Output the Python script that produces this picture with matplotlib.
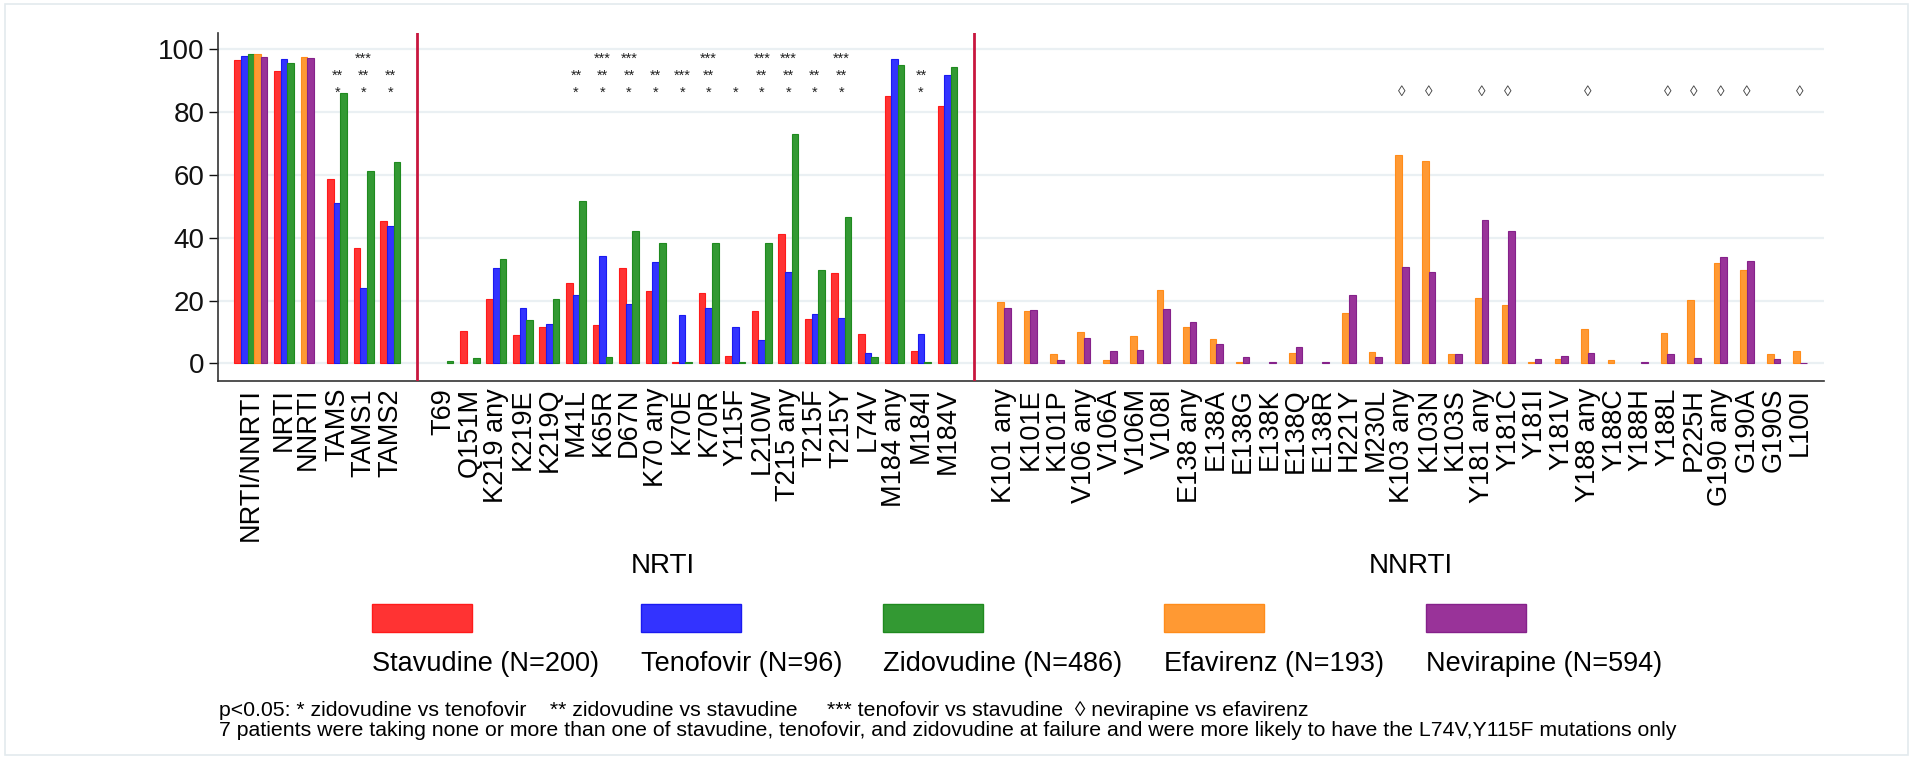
import matplotlib
matplotlib.use("Agg")
import matplotlib.pyplot as plt
from matplotlib.patches import Rectangle

# Drugs (legend order) and their sample sizes
drugs = ["Stavudine", "Tenofovir", "Zidovudine", "Efavirenz", "Nevirapine"]
drug_n = [200, 96, 486, 193, 594]
fill_colors = ["#FF3333", "#3333FF", "#339933", "#FF9933", "#993399"]
edge_colors = ["#FF1A1A", "#1A1AF0", "#1F8A1F", "#FF8C1A", "#85218A"]

# Overall resistance classes (None = drug not shown for that class)
class_labels = ["NRTI/NNRTI", "NRTI", "NNRTI", "TAMS", "TAMS1", "TAMS2"]
stavudine_class = [96.5, 93.1, None, 58.6, 36.6, 45.2]
tenofovir_class = [97.9, 96.8, None, 51.1, 24.0, 43.9]
zidovudine_class = [98.4, 95.5, None, 86.0, 61.3, 64.1]
efavirenz_class = [98.5, None, 97.6, None, None, None]
nevirapine_class = [97.6, None, 97.3, None, None, None]
class_sig = [[], [], [], ["**", "*"], ["***", "**", "*"], ["**", "*"]]

# NRTI mutations
nrti_labels = ["T69", "Q151M", "K219 any", "K219E", "K219Q", "M41L", "K65R", "D67N",
               "K70 any", "K70E", "K70R", "Y115F", "L210W", "T215 any", "T215F", "T215Y",
               "L74V", "M184 any", "M184I", "M184V"]
stavudine_nrti = [0, 10.4, 20.5, 9.0, 11.6, 25.5, 12.1, 30.5, 23.1, 0.4, 22.4, 2.5, 16.6,
                  41.1, 14.0, 28.7, 9.4, 85.1, 3.9, 82.1]
tenofovir_nrti = [0, 0, 30.3, 17.8, 12.5, 21.9, 34.3, 18.8, 32.3, 15.5, 17.8, 11.6, 7.4,
                  29.2, 15.6, 14.5, 3.2, 96.8, 9.4, 91.8]
zidovudine_nrti = [0.85, 1.6, 33.1, 13.7, 20.5, 51.7, 2.0, 42.3, 38.4, 0.4, 38.2, 0.6, 38.2,
                   73.2, 29.9, 46.7, 2.1, 94.9, 0.4, 94.5]
nrti_sig = [[], [], [], [], [], ["**", "*"], ["***", "**", "*"], ["***", "**", "*"],
            ["**", "*"], ["***", "*"], ["***", "**", "*"], ["*"], ["***", "**", "*"],
            ["***", "**", "*"], ["**", "*"], ["***", "**", "*"], [], [], ["**", "*"], []]

# NNRTI mutations
nnrti_labels = ["K101 any", "K101E", "K101P", "V106 any", "V106A", "V106M", "V108I",
                "E138 any", "E138A", "E138G", "E138K", "E138Q", "E138R", "H221Y", "M230L",
                "K103 any", "K103N", "K103S", "Y181 any", "Y181C", "Y181I", "Y181V",
                "Y188 any", "Y188C", "Y188H", "Y188L", "P225H", "G190 any", "G190A",
                "G190S", "L100I"]
efavirenz_nnrti = [19.5, 16.7, 3.1, 9.9, 1.1, 8.8, 23.4, 11.6, 7.7, 0.4, 0, 3.2, 0, 16.1,
                   3.7, 66.2, 64.3, 3.1, 20.8, 18.6, 0.4, 1.5, 10.9, 1.0, 0, 9.8, 20.3,
                   32.1, 29.6, 3.1, 4.1]
nevirapine_nnrti = [17.8, 16.9, 1.1, 8.1, 4.1, 4.4, 17.4, 13.1, 6.1, 1.9, 0.3, 5.2, 0.3,
                    21.9, 2.1, 30.8, 29.1, 3.1, 45.6, 42.0, 1.5, 2.5, 3.2, 0, 0.3, 3.1, 1.7,
                    33.9, 32.6, 1.5, 0.2]
nnrti_sig = ["K103 any", "K103N", "Y181 any", "Y181C", "Y188 any", "Y188L", "P225H",
             "G190 any", "G190A", "L100I"]

footnote_1 = ("p<0.05: * zidovudine vs tenofovir    ** zidovudine vs stavudine     "
              "*** tenofovir vs stavudine  \u25ca nevirapine vs efavirenz")
footnote_2 = ("7 patients were taking none or more than one of stavudine, tenofovir, and "
              "zidovudine at failure and were more likely to have the L74V,Y115F mutations only")

W, H = 1926, 770
plt.rcParams["font.family"] = ["Liberation Sans", "DejaVu Sans"]
fig = plt.figure(figsize=(W / 100, H / 100), dpi=100)


def fx(px):
    return px / W


def fy(py):
    return 1 - py / H


ax = fig.add_axes([fx(217.7), fy(381), fx(1824) - fx(217.7), fy(33) - fy(381)])
ax.set_xlim(0, 242.1)
ax.set_ylim(-5.6, 105.2)

star_rows = [87.5, 92.8, 98.1]   # bottom row first


def bar(x, h, d):
    if h is None or h <= 0:
        return
    ax.bar(x, h, width=1, align="edge", color=fill_colors[d], edgecolor=edge_colors[d],
           linewidth=0.8, zorder=2)


def stars(x, marks):
    for row, m in enumerate(reversed(marks)):
        ax.text(x, star_rows[row] - 1.2, m, ha="center", va="center", fontsize=10.5,
                color="#222222")


tick_pos = []
tick_lab = []

# Section 1: classes, bars packed per class
class_values = [stavudine_class, tenofovir_class, zidovudine_class, efavirenz_class,
                nevirapine_class]
pos = 2.5
for k, lab in enumerate(class_labels):
    if lab == "TAMS":
        pos += 1
    present = [d for d in range(5) if class_values[d][k] is not None]
    for j, d in enumerate(present):
        bar(pos + j, class_values[d][k], d)
    center = pos + len(present) / 2
    tick_pos.append(center)
    tick_lab.append(lab)
    stars(center, class_sig[k])
    pos += len(present) + 1

# Section 2: NRTI mutations, slots of 4 bar widths
nrti_values = [stavudine_nrti, tenofovir_nrti, zidovudine_nrti]
for i, lab in enumerate(nrti_labels):
    s = 32 + 4 * i
    for d in range(3):
        bar(s + 0.5 + d, nrti_values[d][i], d)
    tick_pos.append(s + 2)
    tick_lab.append(lab)
    stars(s + 2, nrti_sig[i])

# Section 3: NNRTI mutations
for i, lab in enumerate(nnrti_labels):
    s = 116.5 + 4 * i
    bar(s + 1, efavirenz_nnrti[i], 3)
    bar(s + 2, nevirapine_nnrti[i], 4)
    tick_pos.append(s + 2)
    tick_lab.append(lab)
    if lab in nnrti_sig:
        ax.text(s + 2, 86.5, "\u25ca", ha="center", va="center", fontsize=11,
                color="#444444")

# Section separators
for xs in [30, 114]:
    ax.axvline(xs, color="#C8163E", linewidth=2, zorder=3)

ax.set_yticks([0, 20, 40, 60, 80, 100])
ax.yaxis.grid(True, color="#EAF0F3", linewidth=1.6)
ax.set_axisbelow(True)
ax.tick_params(axis="y", labelsize=20, length=6.5, width=1, pad=3, colors="#111111")
ax.set_xticks(tick_pos)
ax.set_xticklabels(tick_lab, rotation=90, fontsize=19.5)
ax.tick_params(axis="x", length=0, pad=5)
for side in ["top", "right"]:
    ax.spines[side].set_visible(False)
for side in ["left", "bottom"]:
    ax.spines[side].set_linewidth(1.2)
    ax.spines[side].set_color("#333333")

# Section titles
fig.text(fx(663), fy(573), "NRTI", ha="center", va="baseline", fontsize=20)
fig.text(fx(1411), fy(573), "NNRTI", ha="center", va="baseline", fontsize=20)

# Legend: coloured boxes with labels underneath
renderer = fig.canvas.get_renderer()
lx = 372
for d in range(5):
    fig.patches.append(Rectangle((fx(lx), fy(632)), 100 / W, 28 / H, transform=fig.transFigure,
                                 facecolor=fill_colors[d], edgecolor=edge_colors[d],
                                 linewidth=1))
    t = fig.text(fx(lx), fy(671), "%s (N=%d)" % (drugs[d], drug_n[d]), ha="left",
                 va="baseline", fontsize=19.5)
    lx += t.get_window_extent(renderer).width + 41.5

# Footnotes
fig.text(fx(219), fy(716), footnote_1, ha="left", va="baseline", fontsize=15.3)
fig.text(fx(219), fy(736), footnote_2, ha="left", va="baseline", fontsize=15.3)

# Light outer frame
fig.patches.append(Rectangle((fx(5), fy(755)), fx(1908) - fx(5), fy(4) - fy(755),
                             transform=fig.transFigure, fill=False, edgecolor="#E3EAEE",
                             linewidth=1.2))

fig.savefig("out.png", dpi=100)
